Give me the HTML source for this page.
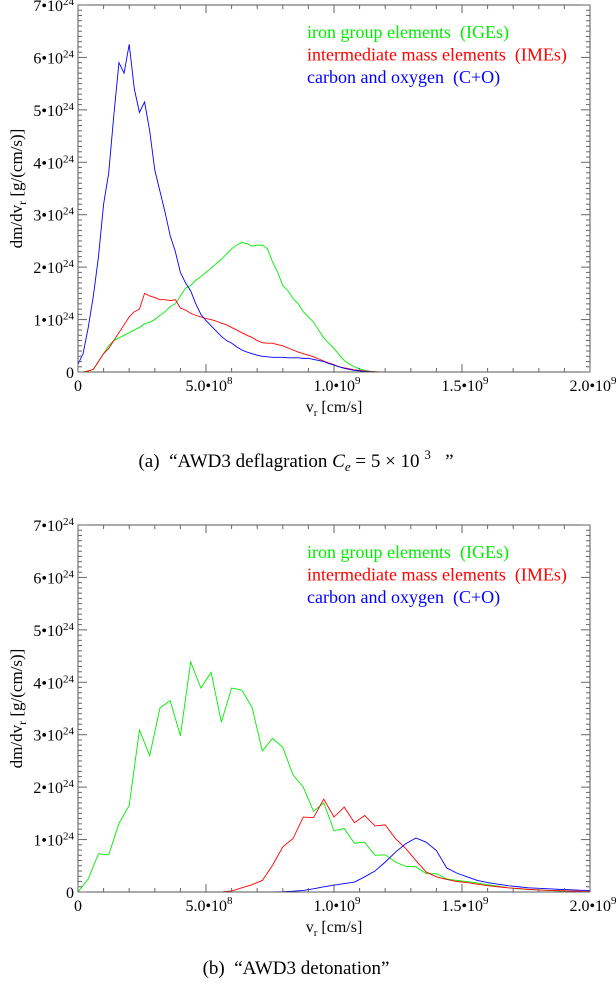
<!DOCTYPE html>
<html><head><meta charset="utf-8">
<style>
html,body{margin:0;padding:0;background:#fff;}
svg{display:block;}
svg text{font-family:"Liberation Serif","DejaVu Serif",serif;white-space:pre;}
</style></head>
<body>
<svg id="fig" width="616" height="986" viewBox="0 0 616 986" xmlns="http://www.w3.org/2000/svg">
<g id="pa"></g>
<g id="pb"></g>
<text x="296" y="467" font-size="19" text-anchor="middle" xml:space="preserve">(a)  “AWD3 deflagration <tspan font-style="italic">C</tspan><tspan font-style="italic" font-size="13" dy="4">e</tspan><tspan dy="-4"> = 5 × 10 </tspan><tspan font-size="13" dy="-8">3</tspan><tspan dy="8">   ”</tspan></text>
<text x="296" y="974" font-size="19" text-anchor="middle" xml:space="preserve">(b)  “AWD3 detonation”</text>
</svg>
<script>
// Panel A data (velocity in 1e8 cm/s, values in 1e24 g/(cm/s))
const velA = [0,0.2,0.4,0.6,0.8,1.0,1.2,1.4,1.6,1.8,2.0,2.2,2.4,2.6,2.8,3.0,3.2,3.4,3.6,3.8,4.0,4.2,4.4,4.6,4.8,5.0,5.2,5.4,5.6,5.8,6.0,6.2,6.4,6.6,6.8,7.0,7.2,7.4,7.6,7.8,8.0,8.2,8.4,8.6,8.8,9.0,9.2,9.4,9.6,9.8,10.0,10.2,10.4,10.6,10.8,11.0,11.2,11.4,11.6,11.8,12.0,12.2,12.4,12.6,12.8,13.0,20.0];
const igeA = [0,0,0.02,0.05,0.2,0.35,0.5,0.6,0.65,0.7,0.75,0.8,0.85,0.92,0.95,1.0,1.08,1.15,1.25,1.3,1.45,1.6,1.65,1.75,1.82,1.9,1.98,2.07,2.15,2.25,2.35,2.42,2.47,2.45,2.4,2.42,2.42,2.35,2.1,1.9,1.65,1.55,1.4,1.3,1.15,1.05,0.95,0.8,0.65,0.55,0.45,0.33,0.22,0.15,0.1,0.06,0.03,0.015,0.005,0,0,0,0,0,0,0,0];
const imeA = [0,0,0.02,0.05,0.2,0.35,0.45,0.6,0.75,0.9,1.05,1.15,1.2,1.5,1.45,1.42,1.38,1.38,1.36,1.38,1.22,1.18,1.12,1.08,1.05,1.02,1.0,0.97,0.93,0.9,0.85,0.8,0.75,0.7,0.66,0.6,0.56,0.55,0.55,0.52,0.5,0.46,0.42,0.38,0.35,0.32,0.29,0.25,0.21,0.17,0.14,0.1,0.08,0.06,0.04,0.03,0.02,0.01,0.005,0,0,0,0,0,0,0,0];
const coA = [0.15,0.35,0.85,1.45,2.2,3.2,3.8,4.9,5.9,5.7,6.25,5.4,4.95,5.15,4.6,3.85,3.45,3.05,2.6,2.3,1.9,1.7,1.55,1.3,1.1,0.98,0.88,0.78,0.68,0.6,0.55,0.48,0.42,0.38,0.35,0.32,0.3,0.29,0.28,0.28,0.28,0.27,0.27,0.27,0.26,0.26,0.24,0.22,0.2,0.16,0.13,0.1,0.07,0.05,0.03,0.02,0.01,0.005,0,0,0,0,0,0,0,0,0];
// Panel B data
const velB = [0,0.4,0.8,1.2,1.6,2.0,2.4,2.8,3.2,3.6,4.0,4.4,4.8,5.2,5.6,6.0,6.4,6.8,7.2,7.6,8.0,8.4,8.8,9.2,9.6,10.0,10.4,10.8,11.2,11.6,12.0,12.4,12.8,13.2,13.6,14.0,14.4,14.8,15.2,15.6,16.0,16.4,16.8,17.2,17.6,18.0,18.4,18.8,19.2,19.6,20.0];
const igeB = [0,0.25,0.73,0.71,1.31,1.65,3.09,2.6,3.51,3.65,2.98,4.39,3.89,4.19,3.24,3.89,3.85,3.52,2.69,2.93,2.76,2.23,2.0,1.54,1.7,1.17,1.21,0.93,0.95,0.7,0.71,0.57,0.49,0.48,0.35,0.35,0.25,0.22,0.2,0.17,0.14,0.11,0.08,0.06,0.05,0.04,0.03,0.02,0.015,0.01,0.005];
const imeB = [0,0,0,0,0,0,0,0,0,0,0,0,0,0,0,0.02,0.08,0.14,0.22,0.51,0.86,1.02,1.43,1.42,1.77,1.43,1.62,1.32,1.46,1.26,1.28,1.02,0.83,0.6,0.38,0.29,0.24,0.2,0.18,0.15,0.12,0.1,0.08,0.065,0.05,0.04,0.03,0.025,0.02,0.015,0.01];
const coB = [0,0,0,0,0,0,0,0,0,0,0,0,0,0,0,0,0,0,0,0,0.005,0.015,0.03,0.06,0.1,0.13,0.16,0.19,0.29,0.4,0.57,0.76,0.92,1.03,0.95,0.79,0.46,0.36,0.29,0.22,0.18,0.15,0.12,0.1,0.08,0.07,0.06,0.05,0.045,0.035,0.03];
const yTicks = [0,1,2,3,4,5,6,7];
const xTickVals = [0,5,10,15,20];
const xTickLabels = ["0","5.0•10|8","1.0•10|9","1.5•10|9","2.0•10|9"];
const legendLabels = ["iron group elements  (IGEs)","intermediate mass elements  (IMEs)","carbon and oxygen  (C+O)"];
const colors = ["#00ee00","#ff0000","#0000ff"];

const NS = "http://www.w3.org/2000/svg";
function mk(tag, attrs, parent){const e=document.createElementNS(NS,tag);for(const k in attrs)e.setAttribute(k,attrs[k]);parent.appendChild(e);return e;}

function panel(g, top, vel, series, names){
  const L=78,R=590,T=top,B=top+367;
  const sx=v=>L+(v/20)*(R-L);
  const sy=y=>B-(y/7)*(B-T);
  series.forEach((s,k)=>{
    let d="";
    s.forEach((y,i)=>{d+=(i?"L":"M")+sx(vel[i]).toFixed(2)+","+sy(y).toFixed(2);});
    const p=mk("path",{d:d,fill:"none",stroke:colors[k],"stroke-width":"0.9"},g);
    
    
  });
  const fr=mk("rect",{x:L,y:T,width:R-L,height:B-T,fill:"none",stroke:"#555","stroke-width":"1"},g);
  
  
  const tg=mk("g",{stroke:"#666","stroke-width":"1"},g);
  
  
  for(let i=0;i<=20;i++){
    const x=sx(i), len=(i%5===0)?8:4;
    mk("line",{x1:x,y1:B,x2:x,y2:B-len},tg);
    mk("line",{x1:x,y1:T,x2:x,y2:T+len},tg);
  }
  for(let i=0;i<=70;i++){
    const y=sy(i/10), len=(i%10===0)?9:4;
    mk("line",{x1:L,y1:y,x2:L+len,y2:y},tg);
    mk("line",{x1:R,y1:y,x2:R-len,y2:y},tg);
  }
  yTicks.forEach(v=>{
    const t=mk("text",{x:74,y:sy(v)+6,"font-size":"16","text-anchor":"end"},g);
    
    
    if(v===0){t.textContent="0";}
    else{
      const a=mk("tspan",{},t);a.textContent=v+"•10";
      const b=mk("tspan",{"font-size":"11",dy:"-6"},t);b.textContent="24";
    }
  });
  xTickVals.forEach((v,i)=>{
    const parts=xTickLabels[i].split("|");
    const t=mk("text",{x:sx(v)+(parts.length>1?3:0),y:B+19,"font-size":"16","text-anchor":"middle"},g);
    
    
    const a=mk("tspan",{},t);a.textContent=parts[0];
    if(parts.length>1){const b=mk("tspan",{"font-size":"11",dy:"-7"},t);b.textContent=parts[1];}
  });
  const xt=mk("text",{x:334,y:B+40,"font-size":"16","text-anchor":"middle"},g);
  
  
  mk("tspan",{},xt).textContent="v";
  mk("tspan",{"font-size":"11",dy:"4"},xt).textContent="r";
  mk("tspan",{dy:"-4"},xt).textContent=" [cm/s]";
  const yc=(T+B)/2;
  const yt=mk("text",{x:0,y:0,"font-size":"17","text-anchor":"middle",transform:"translate(22,"+yc+") rotate(-90)"},g);
  
  
  mk("tspan",{},yt).textContent="dm/dv";
  mk("tspan",{"font-size":"12",dy:"4"},yt).textContent="r";
  mk("tspan",{dy:"-4"},yt).textContent=" [g/(cm/s)]";
  legendLabels.forEach((s,k)=>{
    const t=mk("text",{x:307,y:T+33+k*22.5,"font-size":"18",fill:colors[k],"xml:space":"preserve"},g);
    
    
    t.textContent=s;
  });
}
panel(document.getElementById("pa"),5,velA,[igeA,imeA,coA],["ige-line-a","ime-line-a","co-line-a"]);
panel(document.getElementById("pb"),525,velB,[igeB,imeB,coB],["ige-line-b","ime-line-b","co-line-b"]);
</script>
</body></html>
